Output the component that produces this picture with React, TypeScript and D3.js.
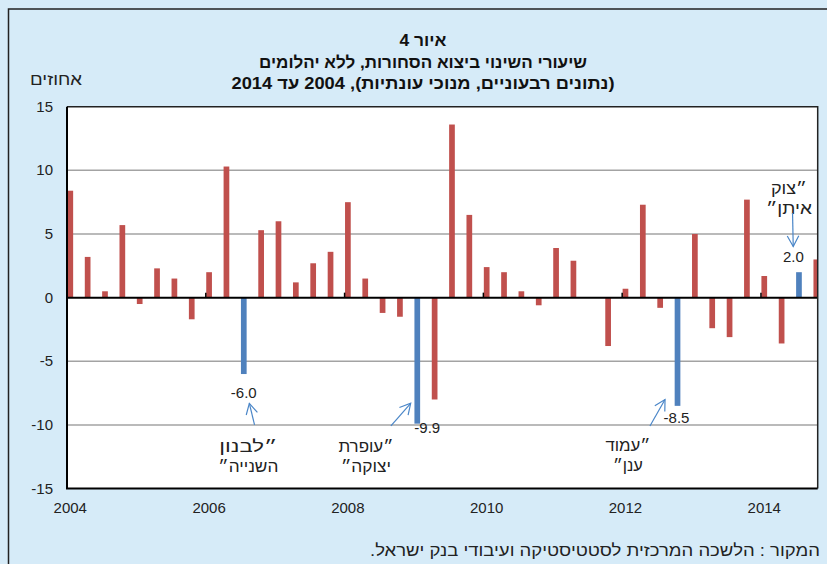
import React from 'react';
import * as d3 from 'd3';

// quarterly data, 2004Q1 .. 2014Q4
const years = [2004, 2005, 2006, 2007, 2008, 2009, 2010, 2011, 2012, 2013, 2014];
const quarters = years.flatMap((y) => ['Q1', 'Q2', 'Q3', 'Q4'].map((q) => `${y}${q}`));
const changes = [
  8.4, 3.2, 0.5, 5.7,
  -0.5, 2.3, 1.5, -1.7,
  2.0, 10.3, -6.0, 5.3,
  6.0, 1.2, 2.7, 3.6,
  7.5, 1.5, -1.2, -1.5,
  -9.9, -8.0, 13.6, 6.5,
  2.4, 2.0, 0.5, -0.6,
  3.9, 2.9, 0.0, -3.8,
  0.7, 7.3, -0.8, -8.5,
  5.0, -2.4, -3.1, 7.7,
  1.7, -3.6, 2.0, 3.0,
];
const warQuarters = ['2006Q3', '2009Q1', '2012Q4', '2014Q3'];
const yTicks = [-15, -10, -5, 0, 5, 10, 15];
const yearLabels = ['2004', '2006', '2008', '2010', '2012', '2014'];

const titleLines = [
  'איור 4',
  'שיעורי השינוי ביצוא הסחורות, ללא יהלומים',
  '(נתונים רבעוניים, מנוכי עונתיות), 2004 עד 2014',
];
const titleWidths = [47, 328, 383];
const unitLabel = 'אחוזים';
const sourceText = 'המקור : הלשכה המרכזית לסטטיסטיקה ועיבודי בנק ישראל.';

// war labels: quarter, lines (+ widths), label centre (index / value), arrow tail + tip (index / value)
const wars = [
  { q: '2006Q3', lines: ['״לבנון', 'השנייה״'], widths: [58, 60], at: [10.26, -12.12], from: [10.62, -10.0], to: [10.32, -8.31], val: [0, 24] },
  { q: '2009Q1', lines: ['״עופרת', 'יצוקה״'], widths: [55, 50], at: [17.04, -12.12], from: [18.48, -10.08], to: [19.62, -8.3], val: [10, 9.5] },
  { q: '2012Q4', lines: ['״עמוד', 'ענן״'], widths: [45, 30], at: [32.14, -12.04], from: [33.41, -10.08], to: [34.28, -8.0], val: [-1, 17] },
  { q: '2014Q3', lines: ['״צוק', 'איתן״'], widths: [36, 46], at: [41.42, 8.15], from: [41.63, 6.65], to: [41.67, 4.02], val: [-5.5, -10] },
];

const W = 827;
const H = 564;
const left = 67;
const right = 817.7;
const top = 106.7;
const bottom = 488.6;

const RED = '#C0504D';
const BLUE = '#4F81BD';
const BG = '#D6EBF8';
const FONT = '"Liberation Sans", "DejaVu Sans", sans-serif';

const App: React.FC = () => {
  const x = d3.scaleLinear().domain([-0.19, 43.08]).range([left, right]);
  const y = d3.scaleLinear().domain([-15, 15]).range([bottom, top]);
  const barW = 5.7;
  const y0 = y(0);

  const arrowHead = (x1: number, y1: number, x2: number, y2: number) => {
    const a = Math.atan2(y1 - y2, x1 - x2);
    const len = 12;
    const sp = 0.5;
    return `M${x2 + len * Math.cos(a + sp)},${y2 + len * Math.sin(a + sp)}L${x2},${y2}L${x2 + len * Math.cos(a - sp)},${y2 + len * Math.sin(a - sp)}`;
  };

  return (
    <svg width={W} height={H} style={{ position: 'absolute', left: 0, top: 0, display: 'block' }} fontFamily={FONT}>
      <defs>
        <clipPath id="plot">
          <rect x={left} y={top} width={right - left} height={bottom - top} />
        </clipPath>
      </defs>
      <rect width={W} height={H} fill={BG} />
      <path d={`M8.5,${H}V9H${W}`} fill="none" stroke="#222" strokeWidth={1.5} />

      {titleLines.map((t, i) => (
        <text key={i} x={423} y={46 + i * 21.5} textAnchor="middle" direction="rtl" fontSize={17} fontWeight="bold" fill="#111"
          textLength={titleWidths[i]} lengthAdjust="spacingAndGlyphs">
          {t}
        </text>
      ))}
      <text x={56} y={85} textAnchor="middle" direction="rtl" fontSize={16} fill="#222" textLength={52} lengthAdjust="spacingAndGlyphs">{unitLabel}</text>

      <rect x={left} y={top} width={right - left} height={bottom - top} fill="#fff" />

      {yTicks.filter((t) => t !== 0 && Math.abs(t) !== 15).map((t) => (
        <line key={t} x1={left} x2={right} y1={y(t)} y2={y(t)} stroke="#A3A3A3" strokeWidth={1.5} />
      ))}

      <g clipPath="url(#plot)">
        {changes.map((v, i) => (
          <rect
            key={quarters[i]}
            x={x(i) - barW / 2}
            y={Math.min(y(v), y0)}
            width={barW}
            height={Math.abs(y(v) - y0)}
            fill={warQuarters.includes(quarters[i]) ? BLUE : RED}
          />
        ))}
      </g>

      <line x1={left} x2={right} y1={y0} y2={y0} stroke="#000" strokeWidth={2} />
      {yearLabels.slice(1).map((yr, k) => (
        <line key={yr} x1={x(8 * (k + 1) - 0.19)} x2={x(8 * (k + 1) - 0.19)} y1={y0 - 5} y2={y0} stroke="#000" strokeWidth={1.5} />
      ))}

      <path d={`M${left},${top}H${right}V${bottom}`} fill="none" stroke="#222" strokeWidth={1.5} />
      <path d={`M${left},${top}V${bottom}H${right}`} fill="none" stroke="#000" strokeWidth={2} />

      {yTicks.map((t) => (
        <text key={t} x={53} y={y(t) + 5} textAnchor="end" fontSize={15} fill="#222">{t}</text>
      ))}
      {yearLabels.map((yr, k) => (
        <text key={yr} x={x(8 * k)} y={513} textAnchor="middle" fontSize={15} fill="#222">{yr}</text>
      ))}

      {wars.map((w) => {
        const i = quarters.indexOf(w.q);
        const v = changes[i];
        const x1 = x(w.from[0]);
        const y1 = y(w.from[1]);
        const x2 = x(w.to[0]);
        const y2 = y(w.to[1]);
        return (
          <g key={w.q}>
            <text x={x(i) + w.val[0]} y={y(v) + w.val[1]} textAnchor="middle" fontSize={15} fill="#222">
              {v.toFixed(1)}
            </text>
            {w.lines.map((l, j) => (
              <text key={j} x={x(w.at[0])} y={y(w.at[1]) + j * 20} textAnchor="middle" direction="rtl" fontSize={16} fill="#222"
                textLength={w.widths[j]} lengthAdjust="spacingAndGlyphs">
                {l}
              </text>
            ))}
            <line x1={x1} y1={y1} x2={x2} y2={y2} stroke="#4A86C8" strokeWidth={1.2} />
            <path d={arrowHead(x1, y1, x2, y2)} fill="none" stroke="#4A86C8" strokeWidth={1.2} />
          </g>
        );
      })}

      <text x={820} y={556} textAnchor="start" direction="rtl" fontSize={16} fill="#222" textLength={450} lengthAdjust="spacingAndGlyphs">{sourceText}</text>
    </svg>
  );
};

export default App;
